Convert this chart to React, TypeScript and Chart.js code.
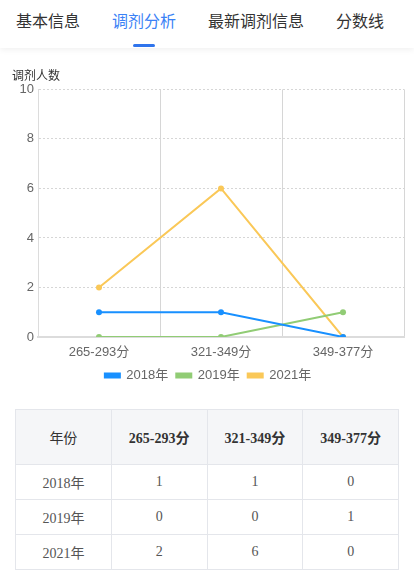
import React, { useEffect, useRef } from "react";
import { Chart, registerables } from "chart.js";

Chart.register(...registerables);

const tabs = ["基本信息", "调剂分析", "最新调剂信息", "分数线"];
const activeTab = 1;
const categories = ["265-293分", "321-349分", "349-377分"];
const seriesNames = ["2018年", "2019年", "2021年"];
const values2018 = [1, 1, 0];
const values2019 = [0, 0, 1];
const values2021 = [2, 6, 0];
const seriesColors = ["#1890ff", "#91cc75", "#fac858"];
const yAxisTitle = "调剂人数";
const tableHeadFirst = "年份";

const FONT = "'Liberation Sans', 'Noto Sans CJK SC', sans-serif";

function LineChart() {
  const ref = useRef<HTMLCanvasElement | null>(null);
  useEffect(() => {
    if (!ref.current) return;
    const seriesValues = [values2018, values2019, values2021];
    const chart = new Chart(ref.current, {
      type: "line",
      data: {
        labels: categories,
        datasets: seriesNames.map((name, i) => ({
          label: name,
          data: seriesValues[i],
          borderColor: seriesColors[i],
          backgroundColor: seriesColors[i],
          borderWidth: 2,
          pointRadius: 3,
          pointHoverRadius: 3,
          pointBorderWidth: 0,
          tension: 0,
        })),
      },
      options: {
        animation: false,
        responsive: false,
        maintainAspectRatio: false,
        layout: { padding: { left: 12, right: 10, top: 0, bottom: 0 } },
        plugins: {
          title: {
            display: true,
            text: yAxisTitle,
            align: "start",
            color: "#333",
            font: { family: FONT, size: 12, weight: "normal" },
            padding: { top: 7, bottom: 6 },
          },
          legend: {
            position: "bottom",
            labels: {
              boxWidth: 15,
              boxHeight: 4,
              color: "#666",
              font: { family: FONT, size: 13 },
              padding: 8,
            },
          },
          tooltip: { enabled: false },
        },
        scales: {
          x: {
            offset: true,
            grid: {
              offset: true,
              color: "#d6d6d6",
              lineWidth: 1,
              drawTicks: false,
            },
            border: { color: "#dcdcdc", width: 2 },
            ticks: {
              color: "#666",
              font: { family: FONT, size: 13 },
              padding: 8,
            },
            afterFit: (s: any) => {
              s.height = 24;
            },
          },
          y: {
            min: 0,
            max: 10,
            grid: {
              color: "#d6d6d6",
              lineWidth: 1,
              drawTicks: false,
            },
            border: { color: "#dcdcdc", width: 1, dash: [2, 2] },
            ticks: {
              stepSize: 2,
              color: "#666",
              font: { family: FONT, size: 13 },
              padding: 4,
            },
            afterFit: (s: any) => {
              s.width = 26;
            },
          },
        },
      } as any,
      plugins: [
        {
          id: "solidYAxisLine",
          afterDraw(c: any) {
            const a = c.chartArea;
            const ctx = c.ctx;
            ctx.save();
            ctx.strokeStyle = "#dcdcdc";
            ctx.lineWidth = 1;
            ctx.beginPath();
            ctx.moveTo(a.left + 0.5, a.top);
            ctx.lineTo(a.left + 0.5, a.bottom);
            ctx.stroke();
            ctx.restore();
          },
        },
      ],
    });
    return () => chart.destroy();
  }, []);
  return <canvas ref={ref} width={414} height={330} style={{ display: "block", width: 414, height: 330 }} />;
}

export default function App() {
  useEffect(() => {
    document.body.style.margin = "0";
  }, []);
  const rows = [
    { name: seriesNames[0], vals: values2018 },
    { name: seriesNames[1], vals: values2019 },
    { name: seriesNames[2], vals: values2021 },
  ];
  const cellBorder = "1px solid #e4e6eb";
  const tableFont = "'Liberation Serif', 'Noto Sans CJK SC', serif";
  return (
    <div style={{ position: "relative", width: 414, height: 583, background: "#fff", overflow: "hidden" }}>
      <div
        style={{
          position: "absolute",
          left: 0,
          top: 0,
          width: 414,
          height: 48,
          background: "#fff",
          boxShadow: "0 2px 6px rgba(0,0,0,0.06)",
          fontFamily: "'Noto Sans CJK SC', sans-serif",
          fontSize: 16,
        }}
      >
        {tabs.map((t, i) => {
          const lefts = [16, 112, 208, 336];
          return (
            <div
              key={t}
              style={{
                position: "absolute",
                left: lefts[i],
                top: 8,
                lineHeight: "24px",
                color: i === activeTab ? "#3b82f6" : "#333",
                whiteSpace: "nowrap",
              }}
            >
              {t}
            </div>
          );
        })}
        <div style={{ position: "absolute", left: 133, top: 44, width: 22, height: 3, borderRadius: 2, background: "#2f74ec" }} />
      </div>
      <div style={{ position: "absolute", left: 0, top: 62 }}>
        <LineChart />
      </div>
      <table
        style={{
          position: "absolute",
          left: 15,
          top: 409,
          width: 384,
          borderCollapse: "collapse",
          fontFamily: tableFont,
          fontSize: 14,
          color: "#555",
          textAlign: "center",
          tableLayout: "fixed",
        }}
      >
        <thead>
          <tr style={{ height: 55, background: "#f5f6f8" }}>
            <th style={{ border: cellBorder, fontWeight: "normal", color: "#333" }}>{tableHeadFirst}</th>
            {categories.map((c) => (
              <th key={c} style={{ border: cellBorder, fontWeight: "bold", color: "#333" }}>{c}</th>
            ))}
          </tr>
        </thead>
        <tbody>
          {rows.map((r) => (
            <tr key={r.name} style={{ height: 35 }}>
              <td style={{ border: cellBorder, padding: 0 }}>{r.name}</td>
              {r.vals.map((v, j) => (
                <td key={j} style={{ border: cellBorder, padding: 0 }}>{v}</td>
              ))}
            </tr>
          ))}
        </tbody>
      </table>
    </div>
  );
}
